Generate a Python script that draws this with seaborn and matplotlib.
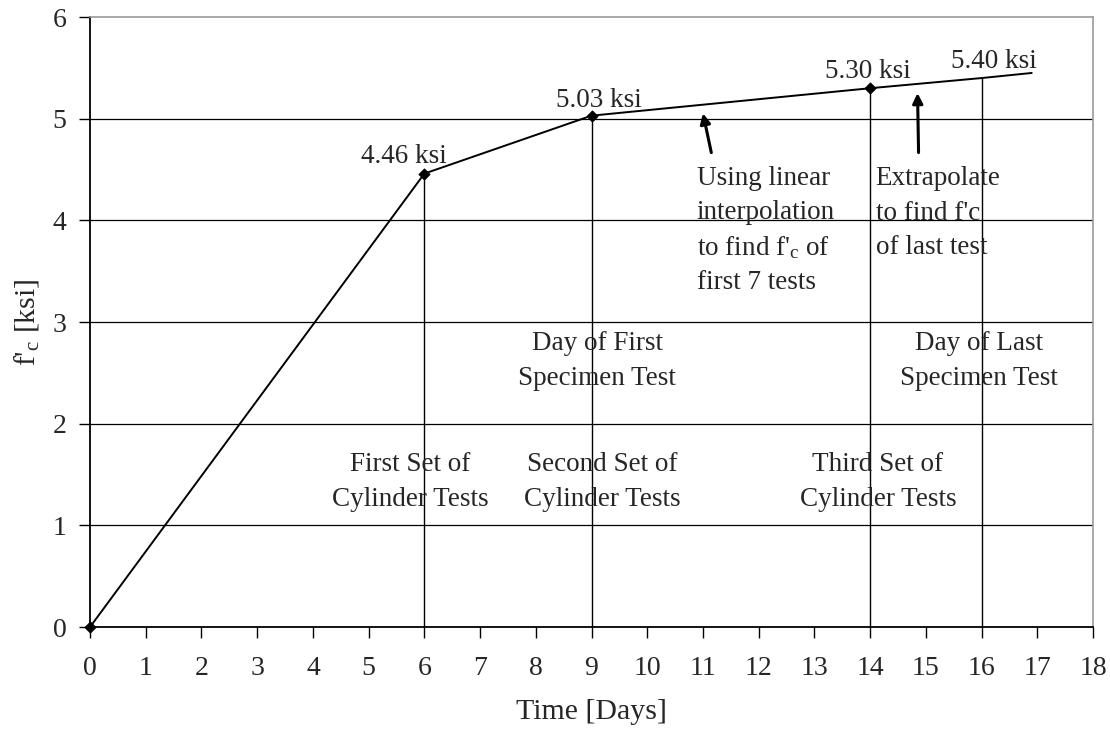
import numpy as np
import pandas as pd
import matplotlib
matplotlib.use("Agg")
import matplotlib.pyplot as plt
import seaborn as sns

# -----------------------------------------------------------------
# data
# -----------------------------------------------------------------
days = [0, 6, 9, 14, 16, 16.9]
strength = [0.0, 4.46, 5.03, 5.30, 5.40, 5.45]
marker_days = [0, 6, 9, 14]
marker_strength = [0.0, 4.46, 5.03, 5.30]
drop_days = [6, 9, 14, 16]
drop_strength = [4.46, 5.03, 5.30, 5.40]
value_labels = ["4.46 ksi", "5.03 ksi", "5.30 ksi", "5.40 ksi"]
x_ticks = list(range(0, 19))
y_ticks = list(range(0, 7))

sns.set_style("white")
plt.rcParams['font.family'] = ['Liberation Serif', 'DejaVu Serif']
plt.rcParams['mathtext.fontset'] = 'custom'
plt.rcParams['mathtext.rm'] = 'Liberation Serif'
plt.rcParams['mathtext.it'] = 'Liberation Serif:italic'

fig = plt.figure(figsize=(11.1, 7.32), dpi=100)
ax = fig.add_axes([0.0811, 0.1434, 0.9036, 0.8333])

df = pd.DataFrame({"day": days, "fc": strength})
sns.lineplot(data=df, x="day", y="fc", color="black", linewidth=1.4, ax=ax)
sns.scatterplot(x=marker_days, y=marker_strength, marker="D", s=34, color="black",
                edgecolor="black", zorder=5, ax=ax, clip_on=False)

ax.vlines(drop_days, 0, drop_strength, color="black", linewidth=1.0)

for yv in y_ticks[1:-1]:
    ax.axhline(yv, color="black", linewidth=0.9, zorder=0)

ax.set_xlim(0, 18)
ax.set_ylim(0, 6)
ax.set_xticks(x_ticks)
ax.set_yticks(y_ticks)
ax.tick_params(axis="both", direction="out", length=8, width=1, color="black",
               labelsize=20, bottom=True, left=True)
ax.tick_params(axis="x", pad=13)
ax.tick_params(axis="y", pad=9)

for side in ["left", "bottom"]:
    ax.spines[side].set_color("black")
    ax.spines[side].set_linewidth(1.3)
for side in ["right", "top"]:
    ax.spines[side].set_visible(True)
    ax.spines[side].set_color("#9a9a9a")
    ax.spines[side].set_linewidth(1.2)

ax.set_xlabel("Time [Days]", fontsize=21.5, labelpad=13)
ax.set_ylabel("f'$_{\\rm c}$ [ksi]", fontsize=21.5, labelpad=8)

fs = 19.5
# value labels above the points (x, baseline y)
label_pos = [(5.64, 4.56), (9.13, 5.12), (13.96, 5.40), (16.22, 5.50)]
for (lx, ly), txt in zip(label_pos, value_labels):
    ax.text(lx, ly, txt, ha="center", va="baseline", fontsize=fs)

ax.text(10.89, 4.53, "Using linear\ninterpolation\nto find f'$_{\\rm c}$ of\nfirst 7 tests",
        ha="left", va="top", fontsize=fs, linespacing=1.45)
ax.text(14.1, 4.53, "Extrapolate\nto find f'c\nof last test",
        ha="left", va="top", fontsize=fs, linespacing=1.5)

ax.annotate("", xy=(10.99, 5.08), xytext=(11.16, 4.64),
            arrowprops=dict(arrowstyle="-|>", color="black", lw=2.2, mutation_scale=15))
ax.annotate("", xy=(14.85, 5.28), xytext=(14.87, 4.64),
            arrowprops=dict(arrowstyle="-|>", color="black", lw=2.2, mutation_scale=15))

ax.text(9.1, 2.91, "Day of First\nSpecimen Test", ha="center", va="top", fontsize=fs, linespacing=1.52)
ax.text(15.95, 2.91, "Day of Last\nSpecimen Test", ha="center", va="top", fontsize=fs, linespacing=1.52)
ax.text(5.75, 1.72, "First Set of\nCylinder Tests", ha="center", va="top", fontsize=fs, linespacing=1.52)
ax.text(9.2, 1.72, "Second Set of\nCylinder Tests", ha="center", va="top", fontsize=fs, linespacing=1.52)
ax.text(14.14, 1.72, "Third Set of\nCylinder Tests", ha="center", va="top", fontsize=fs, linespacing=1.52)

fig.savefig("out.png", dpi=100)
